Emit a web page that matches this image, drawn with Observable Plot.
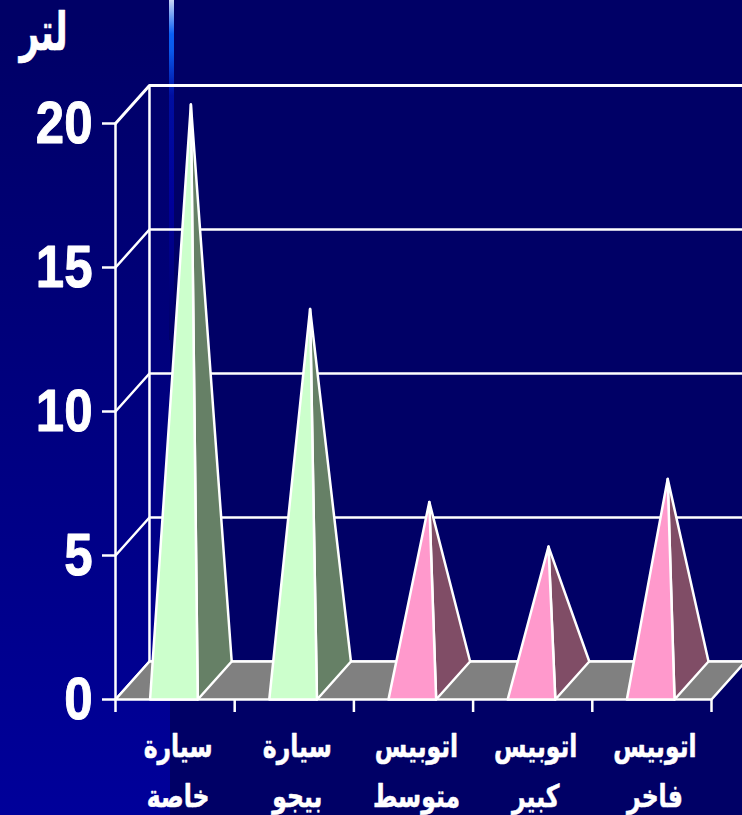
<!DOCTYPE html>
<html><head><meta charset="utf-8">
<script src="https://cdn.jsdelivr.net/npm/d3@7"></script>
<script src="https://cdn.jsdelivr.net/npm/@observablehq/plot@0.6"></script>
<style>
html,body{margin:0;padding:0;width:742px;height:815px;overflow:hidden;background:#000066}
#bg{position:absolute;left:0;top:0;width:170px;height:815px;background:linear-gradient(180deg,#000066 3%,#00009a 100%)}
#strip{position:absolute;left:169px;top:0;width:5px;height:340px;background:linear-gradient(180deg,#c8d4f4 0%,#0a60f5 10%,#0a58ea 15%,#000ea0 28%,#000099 60%,#000066 100%)}
#chart{position:absolute;left:0;top:0}
svg{background:transparent!important;display:block}
</style></head><body>
<div id="bg"></div><div id="strip"></div><div id="chart"></div>
<script>
const categories = [["سيارة","خاصة"],["سيارة","بيجو"],["اتوبيس","متوسط"],["اتوبيس","كبير"],["اتوبيس","فاخر"]];
const values = [20, 12.9, 6.2, 4.65, 7];
const groups = ["car","car","bus","bus","bus"];
const yTicks = [0, 5, 10, 15, 20];
const unit = "لتر";
const frontColor = {car:"#ccffcc", bus:"#ff99cc"};
const sideColor = {car:"#668066", bus:"#804d66"};
const floorColor = "#808080";
// depth of the 3D box, in data units
const depthX = 0.285, depthY = 1.32;
const halfW = 0.2;
const n = categories.length;

const wall = yTicks.flatMap(v => [
  {x:0, y:v, z:v}, {x:depthX, y:v+depthY, z:v}, {x:n+depthX, y:v+depthY, z:v}
]);
const floor = [{x:0,y:0},{x:n,y:0},{x:n+depthX,y:depthY},{x:depthX,y:depthY}];
const faces = values.flatMap((v,i) => {
  const c = i+0.5-0.01, g = groups[i];
  const apex = {x:c+depthX/2, y:v+depthY/2};
  const l = {x:c-halfW, y:0}, r = {x:c+halfW, y:0};
  const b = {x:c+halfW+depthX, y:depthY};
  return [
    [r,b,apex].map(p => ({...p, z:`s${i}`, fill:sideColor[g]})),
    [l,r,apex].map(p => ({...p, z:`f${i}`, fill:frontColor[g]}))
  ].flat();
});
const labels = categories.map((c,i) => ({x:i+0.5, a:c[0], b:c[1]}));

const fontNum = "'Liberation Sans',Arial,sans-serif";
const fontAr = "'DejaVu Sans','Liberation Sans',sans-serif";

// squeezes the real text glyphs to the reference's narrower, taller letterforms
const squeeze = (sx, sy) => (index, scales, values, dims, ctx, next) => {
  const g = next(index, scales, values, dims, ctx);
  g.querySelectorAll("text").forEach(t => t.setAttribute("transform", `${t.getAttribute("transform") || ""} scale(${sx},${sy})`));
  return g;
};
const arabic = {fill:"white",stroke:"white",strokeWidth:.5,fontWeight:"bold",fontFamily:fontAr};

const plot = Plot.plot({
  width:742, height:815, margin:0,
  style:{background:"transparent"},
  x:{type:"linear", domain:[0,n], range:[115,711]},
  y:{type:"linear", domain:[0,20], range:[699,123]},
  marks:[
    Plot.line(wall.filter(d=>d.z!==20), {x:"x",y:"y",z:"z",stroke:"white",strokeWidth:2.5}),
    Plot.line(wall.filter(d=>d.z===20), {x:"x",y:"y",z:"z",stroke:"white",strokeWidth:3}),
    Plot.ruleX([depthX],{y1:depthY,y2:20+depthY,stroke:"white",strokeWidth:2.5}),
    Plot.ruleX([0],{y1:0,y2:20,stroke:"white",strokeWidth:2.5}),
    Plot.line(floor,{x:"x",y:"y",curve:"linear-closed",fill:floorColor,stroke:"white",strokeWidth:2.5}),
    Plot.line(faces,{x:"x",y:"y",z:"z",curve:"linear-closed",fill:"fill",stroke:"white",strokeWidth:2.5,strokeLinejoin:"round"}),
    Plot.axisY(yTicks,{anchor:"left",tickSize:13,dx:115,stroke:"white",strokeWidth:2.5,strokeOpacity:1,tickFormat:()=>"",label:null}),
    Plot.text(yTicks,{x:0,y:d=>d,text:d=>String(d),textAnchor:"end",dx:-23,fill:"white",stroke:"white",strokeWidth:1,fontSize:60,fontWeight:"bold",fontFamily:fontNum,render:squeeze(.85,1)}),
    Plot.axisX(d3.range(n+1),{anchor:"bottom",tickSize:13,dy:-116,stroke:"white",strokeWidth:2.5,strokeOpacity:1,tickFormat:()=>"",label:null}),
    Plot.text(labels,{x:"x",y:0,text:"a",dy:47,dx:3,fontSize:28,...arabic,render:squeeze(.84,1.12)}),
    Plot.text(labels,{x:"x",y:0,text:"b",dy:97,dx:3,fontSize:28,...arabic,render:squeeze(.84,1.12)}),
    Plot.text([unit],{frameAnchor:"top-left",textAnchor:"middle",dx:43,dy:12,fontSize:44,...arabic,render:squeeze(.78,1.2)})
  ]
});
document.getElementById("chart").append(plot);
</script>
</body></html>
